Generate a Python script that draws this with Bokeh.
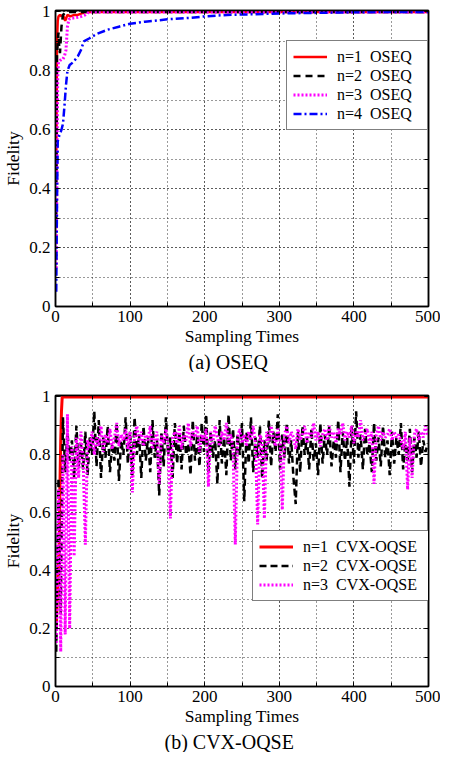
from bokeh.plotting import figure
from bokeh.models import (Range1d, SingleIntervalTicker, LinearAxis, CustomJSTickFormatter,
                          Legend, LegendItem, Title)
from bokeh.layouts import column
from bokeh.embed import file_html
from bokeh.resources import INLINE

FONT = "Times New Roman"

# ---------------- (a) OSEQ ----------------
a_n1_x = [1, 2, 3, 4, 6, 8, 10, 13, 16, 20, 25, 30, 35, 40, 500]
a_n1_y = [0.45, 0.90, 0.97, 0.985, 0.99, 0.985, 0.99, 0.97, 0.99, 0.985, 0.99, 0.99, 0.995, 1.0, 1.0]
a_n2_x = [1, 2, 3, 4, 5, 6, 8, 10, 14, 500]
a_n2_y = [0.30, 0.85, 0.90, 0.93, 0.88, 0.86, 0.95, 0.99, 1.0, 1.0]
a_n3_x = [1, 2, 3, 4, 6, 8, 10, 12, 14, 16, 18, 20, 25, 30, 35, 40, 45, 500]
a_n3_y = [0.13, 0.50, 0.78, 0.83, 0.835, 0.84, 0.84, 0.85, 0.87, 0.95, 0.975, 0.978, 0.98, 0.982,
          0.985, 0.99, 1.0, 1.0]
a_n4_x = [1, 2, 3, 5, 8, 10, 12, 14, 16, 19, 24, 30, 34, 38, 45, 55, 70, 85, 100, 120, 150,
          180, 200, 230, 260, 300, 350, 400, 450, 500]
a_n4_y = [0.05, 0.35, 0.56, 0.58, 0.60, 0.62, 0.68, 0.75, 0.80, 0.82, 0.83, 0.85, 0.87, 0.90,
          0.91, 0.925, 0.94, 0.95, 0.96, 0.967, 0.975, 0.98, 0.985, 0.99, 0.992, 0.995, 0.997,
          0.999, 1.0, 1.0]
a_labels = ["n=1  OSEQ", "n=2  OSEQ", "n=3  OSEQ", "n=4  OSEQ"]
a_caption = "(a)  OSEQ"

# ---------------- (b) CVX-OQSE ----------------
b_n1_x = [1, 3, 5, 6, 7, 8, 9, 500]
b_n1_y = [0.20, 0.35, 0.50, 0.70, 0.85, 0.95, 1.0, 1.0]
b_samples = list(range(1, 500, 3))
b_n2_y = [
    0.12, 0.72, 0.25, 0.93, 0.74, 0.88, 0.78, 0.85, 0.72, 0.90,
    0.76, 0.84, 0.75, 0.88, 0.73, 0.86, 0.80, 0.95, 0.76, 0.92,
    0.72, 0.86, 0.79, 0.90, 0.74, 0.84, 0.78, 0.91, 0.71, 0.85,
    0.80, 0.93, 0.77, 0.88, 0.73, 0.93, 0.80, 0.87, 0.72, 0.90,
    0.78, 0.86, 0.74, 0.92, 0.79, 0.85, 0.66, 0.88, 0.76, 0.93,
    0.80, 0.86, 0.72, 0.91, 0.77, 0.88, 0.75, 0.90, 0.80, 0.84,
    0.73, 0.92, 0.78, 0.87, 0.76, 0.91, 0.81, 0.94, 0.74, 0.88,
    0.79, 0.85, 0.70, 0.92, 0.77, 0.86, 0.73, 0.94, 0.78, 0.89,
    0.75, 0.87, 0.80, 0.91, 0.64, 0.88, 0.77, 0.93, 0.74, 0.86,
    0.79, 0.90, 0.72, 0.85, 0.78, 0.92, 0.76, 0.88, 0.81, 0.94,
    0.75, 0.87, 0.79, 0.91, 0.77, 0.85, 0.72, 0.63, 0.88, 0.74,
    0.90, 0.80, 0.86, 0.75, 0.89, 0.78, 0.84, 0.73, 0.91, 0.77,
    0.87, 0.80, 0.90, 0.76, 0.85, 0.79, 0.92, 0.74, 0.88, 0.78,
    0.86, 0.69, 0.90, 0.77, 0.95, 0.79, 0.87, 0.75, 0.89, 0.80,
    0.84, 0.74, 0.91, 0.78, 0.86, 0.76, 0.90, 0.79, 0.85, 0.73,
    0.88, 0.77, 0.86, 0.80, 0.91, 0.75, 0.84, 0.78, 0.89, 0.74,
    0.86, 0.79, 0.88, 0.76, 0.85, 0.81, 0.84,
]
b_n3_y = [
    0.15, 0.68, 0.12, 0.80, 0.18, 0.94, 0.20, 0.83, 0.45, 0.86,
    0.72, 0.88, 0.79, 0.49, 0.85, 0.82, 0.88, 0.80, 0.86, 0.83,
    0.90, 0.81, 0.87, 0.84, 0.89, 0.82, 0.86, 0.91, 0.83, 0.87,
    0.85, 0.89, 0.82, 0.88, 0.67, 0.86, 0.90, 0.84, 0.88, 0.83,
    0.87, 0.85, 0.90, 0.82, 0.86, 0.88, 0.70, 0.87, 0.84, 0.89,
    0.83, 0.58, 0.86, 0.88, 0.84, 0.90, 0.82, 0.87, 0.85, 0.91,
    0.83, 0.88, 0.86, 0.90, 0.81, 0.87, 0.85, 0.89, 0.69, 0.88,
    0.84, 0.90, 0.86, 0.83, 0.88, 0.85, 0.91, 0.84, 0.87, 0.82,
    0.49, 0.86, 0.89, 0.84, 0.87, 0.83, 0.88, 0.85, 0.90, 0.84,
    0.56, 0.87, 0.85, 0.58, 0.88, 0.84, 0.90, 0.86, 0.83, 0.89,
    0.85, 0.61, 0.87, 0.90, 0.84, 0.88, 0.86, 0.82, 0.89, 0.85,
    0.87, 0.90, 0.84, 0.88, 0.86, 0.91, 0.85, 0.88, 0.83, 0.87,
    0.89, 0.85, 0.90, 0.86, 0.88, 0.84, 0.89, 0.87, 0.91, 0.85,
    0.88, 0.86, 0.90, 0.84, 0.88, 0.86, 0.92, 0.85, 0.87, 0.89,
    0.84, 0.88, 0.70, 0.87, 0.90, 0.85, 0.88, 0.86, 0.87, 0.89,
    0.85, 0.88, 0.86, 0.87, 0.85, 0.82, 0.88, 0.68, 0.86, 0.72,
    0.87, 0.89, 0.85, 0.88, 0.86, 0.90, 0.87,
]
b_labels = ["n=1  CVX-OQSE", "n=2  CVX-OQSE", "n=3  CVX-OQSE"]
b_caption = "(b)  CVX-OQSE"

x_label = "Sampling Times"
y_label = "Fidelity"


def make_fig(height, border_top, border_bottom, caption, cap_standoff, cap_offset):
    p = figure(width=440, height=height, output_backend="svg", toolbar_location=None,
               title=None, x_range=Range1d(0, 500), y_range=Range1d(0, 1.005),
               min_border_left=46, min_border_right=12,
               min_border_top=border_top, min_border_bottom=border_bottom,
               x_axis_label=x_label, y_axis_label=y_label)
    p.xaxis.ticker = SingleIntervalTicker(interval=100, num_minor_ticks=2)
    p.yaxis.ticker = SingleIntervalTicker(interval=0.2, num_minor_ticks=2)
    p.xaxis.formatter = CustomJSTickFormatter(code="return tick.toFixed(0);")
    p.yaxis.formatter = CustomJSTickFormatter(
        code="var s = tick.toFixed(1); return s.endsWith('.0') ? s.slice(0, -2) : s;")
    for ax in [p.xaxis[0], p.yaxis[0]]:
        ax.major_tick_in = 4
        ax.major_tick_out = 0
        ax.minor_tick_in = 4
        ax.minor_tick_out = 0
        ax.axis_line_color = "black"
        ax.axis_line_width = 1.5
        ax.major_tick_line_color = "black"
        ax.minor_tick_line_color = "black"
        ax.major_label_text_font = FONT
        ax.major_label_text_font_size = "17px"
        ax.major_label_text_font_style = "normal"
        ax.major_label_text_color = "black"
        ax.axis_label_text_font = FONT
        ax.axis_label_text_font_size = "17.5px"
        ax.axis_label_text_font_style = "normal"
        ax.axis_label_text_color = "black"
    p.xaxis.major_label_standoff = 4
    p.xaxis.axis_label_standoff = 1
    p.yaxis.major_label_standoff = 5
    p.yaxis.axis_label_standoff = 3

    for side, tk in [("right", SingleIntervalTicker(interval=0.2, num_minor_ticks=2)),
                     ("above", SingleIntervalTicker(interval=100, num_minor_ticks=2))]:
        ax = LinearAxis(ticker=tk, formatter=CustomJSTickFormatter(code="return '';"),
                        major_label_text_font_size="1px", major_label_standoff=0,
                        major_tick_in=4, major_tick_out=0, minor_tick_in=4, minor_tick_out=0,
                        axis_line_color="black", axis_line_width=1.5,
                        major_tick_line_color="black", minor_tick_line_color="black")
        p.add_layout(ax, side)

    for g in [p.xgrid[0], p.ygrid[0]]:
        g.grid_line_color = "black"
        g.grid_line_alpha = 0.8
        g.grid_line_dash = "1 3"
        g.grid_line_width = 1
        g.minor_grid_line_color = "black"
        g.minor_grid_line_alpha = 0.8
        g.minor_grid_line_dash = "1 3"
        g.minor_grid_line_width = 1
    p.outline_line_color = "black"
    p.outline_line_width = 1.5
    p.background_fill_color = "white"
    p.border_fill_color = "white"

    t = Title(text=caption, align="left", offset=cap_offset, text_font=FONT,
              text_font_size="20px", text_font_style="normal", text_color="black",
              standoff=cap_standoff)
    p.add_layout(t, "below")
    return p


def make_legend(items, loc, label_w):
    return Legend(items=items, location=loc, label_text_font=FONT, label_text_font_size="16px",
                  label_text_font_style="normal",
                  label_text_color="black", border_line_color="black", border_line_width=1.5,
                  background_fill_color="white", background_fill_alpha=1.0,
                  padding=6, spacing=0, margin=0, label_height=19, glyph_height=19,
                  glyph_width=34, label_standoff=10, label_width=label_w)


# ---- top figure ----
pa = make_fig(372, 10, 60, a_caption, 0, 133)
ra1 = pa.line(a_n1_x, a_n1_y, line_color="#ff0000", line_width=2.5)
ra2 = pa.line(a_n2_x, a_n2_y, line_color="black", line_width=2.5, line_dash="7 5")
ra3 = pa.line(a_n3_x, a_n3_y, line_color="#ff00ff", line_width=3, line_dash="2 2")
ra4 = pa.line(a_n4_x, a_n4_y, line_color="#0000ff", line_width=2.5, line_dash="8 3 2 3")
pa.add_layout(make_legend([LegendItem(label=l, renderers=[r]) for l, r in
                           zip(a_labels, [ra1, ra2, ra3, ra4])], (231, 176), 84))

# ---- bottom figure ----
pb = make_fig(380, 23, 60, b_caption, 0, 109)
rb1 = pb.line(b_n1_x, b_n1_y, line_color="#ff0000", line_width=3)
rb2 = pb.line(b_samples, b_n2_y, line_color="black", line_width=2.5, line_dash="7 4")
rb3 = pb.line(b_samples, b_n3_y, line_color="#ff00ff", line_width=3, line_dash="2 2")
pb.add_layout(make_legend([LegendItem(label=l, renderers=[r]) for l, r in
                           zip(b_labels, [rb1, rb2, rb3])], (197, 85), 124))

layout = column(pa, pb, spacing=0)
open("out.html", "w").write(file_html(layout, INLINE))
